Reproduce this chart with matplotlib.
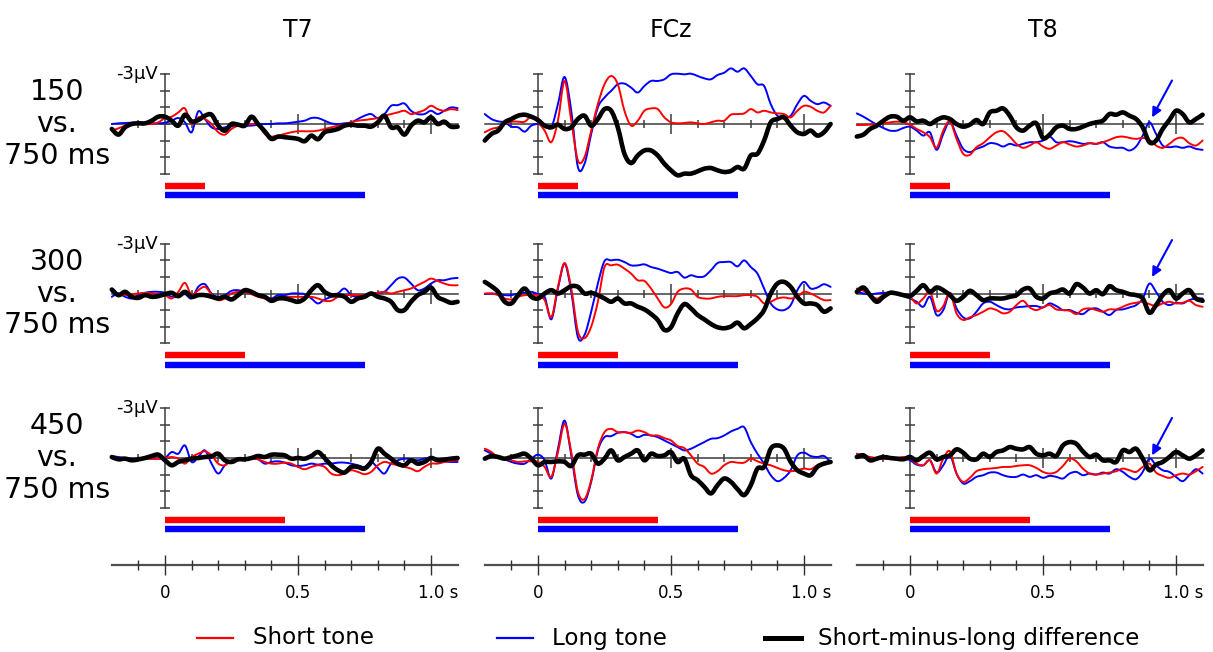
import numpy as np
import matplotlib
matplotlib.use("Agg")
import matplotlib.pyplot as plt
from matplotlib.lines import Line2D
from matplotlib.path import Path
from matplotlib.patches import PathPatch
from matplotlib.transforms import offset_copy

# ---------------------------------------------------------------- data
# sampling times (s), 25 ms steps from -200 ms to 1100 ms
times = np.round(np.arange(-0.2, 1.1001, 0.025), 3)

channels = ["T7", "FCz", "T8"]
short_ms = ["150", "300", "450"]
short_dur = [0.15, 0.30, 0.45]
long_dur = 0.75

# ERP amplitudes in microvolts (negative plotted upward)
t7_150_short = [0.40,0.26,0.10,0,0,0,0,-0.10,-0.36,-0.44,-0.70,-0.94,0,-0.40,-0.30,0,0.50,0.64,0.30,0.10,0.04,0,0.04,0.60,0.76,0.70,0.60,0.50,0.44,0.44,0.44,0.40,0.30,0.20,0.10,0.04,-0.10,-0.20,-0.24,-0.30,-0.36,-0.50,-0.60,-0.70,-0.80,-0.60,-0.70,-0.84,-1.10,-0.90,-0.80,-0.90,-0.84]
t7_150_long = [0,-0.04,-0.06,-0.08,-0.08,-0.08,-0.04,-0.04,-0.08,-0.20,-0.36,-0.10,0.50,-0.76,-0.30,0.20,0.30,0.20,0.14,0.10,0.10,0.10,0.04,0,0,-0.04,-0.04,-0.08,-0.14,-0.20,-0.36,-0.36,-0.20,-0.04,0,-0.04,-0.10,-0.30,-0.50,-0.60,-0.36,-0.60,-1.10,-1.14,-1.24,-0.80,-0.60,-0.60,-0.80,-0.60,-0.80,-1.00,-0.96]
t7_150_diff = [0.30,0.64,0.20,0,-0.04,-0.04,-0.20,-0.44,-0.44,-0.20,0.10,-0.56,-0.16,-0.24,-0.50,-0.56,0.10,0.40,0,0.04,0.10,-0.44,0,0.44,0.90,0.76,0.80,0.84,0.90,1.04,0.70,0.92,0.50,0.40,0.30,0.10,0.04,0.10,0.10,0.16,-0.10,-0.50,0.20,0.20,0.64,0.10,-0.20,-0.10,-0.40,0,-0.14,0.16,0.16]

fcz_150_short = [0.50,0.30,0.20,0,-0.14,-0.14,-0.14,-0.44,-0.10,0.40,1.10,-0.20,-2.60,-0.20,2.20,2.00,0.40,-1.20,-2.40,-2.90,-2.40,-0.80,0.10,-0.20,-0.80,-0.94,-0.90,-0.40,-0.10,-0.04,-0.06,-0.10,-0.04,0,-0.10,-0.20,-0.20,-0.56,-0.60,-0.64,-0.90,-0.70,-0.80,-0.70,-0.64,-0.60,-0.40,-0.80,-1.10,-1.04,-0.80,-0.70,-1.10]
fcz_150_long = [-0.60,-0.30,-0.16,-0.10,0.16,0.20,0.46,0.10,0,0.10,0.20,-1.20,-2.84,-0.80,2.60,2.40,0.60,-1.00,-1.60,-2.00,-2.40,-2.44,-2.20,-1.90,-2.30,-2.60,-2.60,-2.70,-3.00,-3.04,-3.00,-3.04,-2.90,-2.76,-2.70,-2.96,-3.10,-3.36,-3.16,-3.36,-2.90,-2.40,-2.30,-1.20,-0.50,-0.40,-0.50,-1.20,-1.70,-1.40,-1.20,-1.30,-1.10]
fcz_150_diff = [1.00,0.60,0.40,-0.10,-0.30,-0.50,-0.56,-0.44,-0.24,0.10,0.20,0.04,0.30,0.20,-0.30,-0.50,0.10,-0.30,-0.90,-0.80,0.20,1.80,2.36,1.90,1.60,1.60,1.90,2.40,2.80,3.10,3.00,3.00,2.86,2.70,2.66,2.80,2.90,2.84,2.60,2.70,1.90,1.80,1.00,-0.10,-0.30,-0.40,0.10,0.50,0.60,0.40,0.70,0.50,0.00]

t8_150_short = [0.06,0.06,0.04,0,-0.04,-0.10,-0.14,-0.10,0.04,0.30,0.50,0.80,1.44,0.40,-0.16,0.90,1.80,1.86,1.40,1.16,0.80,0.50,0.44,0.76,1.20,1.44,1.30,1.10,1.36,1.50,1.30,1.10,1.24,1.36,1.30,1.16,1.20,1.10,0.96,0.80,0.76,0.84,0.90,0.84,0.96,1.30,1.44,1.20,0.90,0.84,1.16,1.30,1.00]
t8_150_long = [-0.64,-0.44,-0.20,0.04,0.24,0.40,0.40,0.24,0.16,0.40,0.70,0.50,1.56,0.60,-0.16,0.70,1.50,1.70,1.50,1.36,1.16,1.20,1.36,1.20,1.30,1.20,1.10,1.10,1.00,0.76,1.10,1.10,1.04,1.10,1.20,1.16,1.20,1.10,1.36,1.44,1.44,1.60,1.36,0.70,-0.10,0.60,1.30,1.40,1.36,1.44,1.36,1.50,1.56]
t8_150_diff = [0.76,0.64,0.30,0.10,-0.20,-0.44,-0.44,-0.20,-0.40,-0.16,-0.20,0,-0.24,-0.40,-0.30,0,0.16,0.04,-0.24,0,-0.70,-0.80,-0.94,-0.50,0.20,0.40,0.10,-0.04,0.84,0.64,0.20,0.10,0.30,0.30,0.16,0,-0.10,-0.20,-0.60,-0.56,-0.70,-0.50,-0.30,0.20,1.10,1.00,0.30,-0.24,-0.80,-0.60,-0.10,-0.30,-0.56]

t7_300_short = [-0.10,0.04,0.10,0.04,0,-0.04,0,0.04,0.10,0.30,-0.10,-0.64,0.10,-0.20,-0.40,0.04,0.40,0.30,0,-0.10,-0.10,0.04,0.20,0.30,0.40,0.30,0.20,0.20,0.20,0.20,0.20,0.30,0.44,0.44,0.20,0.10,0.10,0.10,0.10,0.04,-0.04,-0.10,0,-0.10,-0.20,-0.30,-0.50,-0.70,-0.90,-0.76,-0.60,-0.50,-0.50]
t7_300_long = [0.20,0,0.20,0.30,0.10,-0.04,-0.10,-0.10,-0.04,0.20,0.20,0.04,0.30,-0.40,-0.56,0,0.20,0.10,-0.16,-0.20,-0.10,0,0.04,0.20,0.30,0.10,0.10,0,0,0.04,0.30,0.60,0.36,0.20,0,-0.30,0.10,0.20,0.10,0,-0.04,-0.10,-0.50,-0.90,-0.96,-0.60,-0.20,-0.30,-0.60,-0.80,-0.80,-0.90,-0.94]
t7_300_diff = [-0.24,0.10,-0.10,0.20,0.26,0.10,0.20,0.16,0.04,-0.04,0.16,-0.10,0.20,0.10,0.10,0.20,0.30,0.20,0.36,0.10,-0.20,-0.10,0.10,0.20,0.44,0.30,0.30,0.40,0.50,0.30,-0.20,-0.50,-0.10,0.10,0.10,0.20,0.50,0.30,0.20,0,0.20,0.30,0.50,1.00,1.00,0.50,0.10,-0.10,-0.36,0.20,0.40,0.56,0.50]

fcz_300_short = [0,0,0.10,0.30,0.36,0.20,0.10,0.10,0.10,0.40,1.44,-0.40,-1.84,-0.30,2.30,2.70,2.00,0.50,-1.60,-1.70,-1.74,-1.50,-1.20,-0.80,-0.76,-0.30,0.30,0.84,0.64,-0.10,-0.30,-0.24,0.20,0.30,0.30,0.20,0.16,0.16,0.16,0.10,0.10,0.20,0.60,0.50,0.30,0.24,0.30,0.20,-0.10,0,0.20,0.40,0.40]
fcz_300_long = [0.04,0,0.04,0.10,0.10,0,-0.04,-0.10,0.04,0.20,1.56,-0.30,-1.80,-0.10,2.64,2.50,1.10,-0.60,-1.96,-2.00,-2.04,-1.90,-1.70,-1.70,-1.76,-1.60,-1.50,-1.36,-1.24,-1.30,-0.96,-1.10,-1.00,-1.04,-1.40,-1.84,-1.90,-1.90,-1.64,-2.00,-1.60,-1.20,-0.30,0.60,0.96,1.00,0.70,-0.20,-0.70,-0.30,-0.36,-0.56,-0.40]
fcz_300_diff = [-0.70,-0.44,-0.10,0.50,0.60,0.10,-0.30,0.20,0.30,0,-0.20,0,-0.20,-0.44,-0.40,0,-0.04,0.10,0.30,0.50,0.30,0.60,0.60,0.80,0.96,1.24,1.60,2.20,2.04,1.20,0.64,0.90,1.30,1.56,1.84,2.04,2.10,2.00,1.76,2.10,1.84,1.50,1.00,0,-0.60,-0.70,-0.40,0.20,0.60,0.60,0.70,1.10,0.90]

t8_300_short = [-0.30,-0.16,0.10,0.30,0.10,-0.04,0,0.10,0.20,0.60,0.30,-0.10,1.04,0.76,-0.04,1.20,1.60,1.44,1.30,1.10,0.90,1.00,1.20,1.10,0.70,0.44,0.84,1.00,0.84,0.70,0.96,1.00,1.04,1.24,0.96,0.90,1.00,1.10,0.96,0.96,0.80,0.64,0.56,0.50,0.64,0.76,0.60,0.50,0.60,0.56,0.44,0.70,0.80]
t8_300_long = [-0.10,0,0.04,0,-0.04,-0.04,0,0.10,0.30,0.50,0.80,0.20,1.30,1.00,-0.04,0.90,1.44,1.50,1.10,0.60,0.50,0.70,0.90,0.96,0.84,0.80,0.76,0.76,0.84,0.60,0.76,1.00,1.00,1.16,1.24,0.96,0.90,1.10,1.30,1.00,0.96,0.84,0.70,0.30,-0.60,-0.10,0.50,0.70,0.56,0.60,0.40,0.30,0.30]
t8_300_diff = [-0.10,-0.36,0.10,0.50,0.20,-0.04,0,0.10,0.16,-0.16,-0.50,-0.10,-0.36,-0.20,0.10,0.44,0.20,-0.16,0.10,0.40,0.30,0.30,0.30,0.20,0.10,-0.24,-0.30,0.20,0.30,0,-0.10,-0.24,0,-0.56,-0.36,0,-0.20,0.04,-0.44,-0.20,-0.10,0.04,0.10,0.30,1.16,0.70,0.10,-0.20,0.30,0,-0.20,0.30,0.44]

t7_450_short = [-0.06,0,0.08,0.14,0.04,0.04,0.04,0.04,0,-0.06,0.04,0.34,-0.06,-0.26,-0.40,-0.16,0.34,0.44,0.14,0.04,0.04,0.04,0.08,0.24,0.34,0.34,0.28,0.34,0.54,0.68,0.54,0.44,0.54,0.94,1.04,0.94,0.74,0.84,0.98,0.84,0.44,0.24,0.34,0.44,0.54,0.64,0.80,0.54,0.34,0.34,0.24,0.18,0.14]
t7_450_long = [-0.12,-0.06,0,0.04,0.04,0.04,0.04,0.04,0,-0.36,-0.26,-0.76,0.24,-0.06,-0.46,0.34,0.94,0.44,0.14,0.04,0.04,0.04,0.08,0.34,0.24,0.20,0.28,0.44,0.48,0.44,0.34,0.40,0.34,0.34,0.28,0.28,0.34,0.44,0.54,0.24,0.60,0.94,0.34,0.14,0.04,0.08,0.14,0.04,0,0.14,0.20,0.24,0.24]
t7_450_diff = [-0.06,0.08,0.04,0.14,0.08,0,-0.12,-0.20,0.14,0.44,0.24,0.14,0.04,0,-0.06,-0.10,-0.26,0.14,0.24,0.08,0.08,0,-0.12,-0.06,-0.20,-0.20,-0.16,0.04,0,0.04,-0.12,-0.36,0,0.44,0.74,0.88,0.54,0.54,0.64,0.24,-0.56,-0.26,0.04,0.34,0.44,0.14,0.34,0.24,0,0.14,0.10,0.04,0]

fcz_450_short = [-0.56,-0.36,0,0.04,0.14,0.24,0.20,0.20,0.24,0.54,1.14,-0.36,-2.06,-0.36,2.04,2.48,1.34,-0.56,-1.56,-1.76,-1.56,-1.56,-1.52,-1.66,-1.56,-1.36,-1.36,-1.20,-1.06,-0.72,-0.60,-0.16,0.34,0.54,0.94,0.80,0.44,0.24,0.28,0.28,0.04,0.20,0.34,0.44,0.60,0.74,0.80,0.74,0.64,0.68,0.44,0.28,0.24]
fcz_450_long = [-0.46,-0.26,-0.06,0.08,0.24,0.34,0.34,0.04,-0.20,0.14,1.24,-0.56,-2.26,-0.16,2.24,2.64,1.44,-0.46,-1.26,-1.32,-1.52,-1.56,-1.46,-1.26,-1.40,-1.36,-1.26,-1.06,-0.86,-0.66,-0.46,-0.56,-0.76,-0.96,-1.16,-1.20,-1.36,-1.60,-1.76,-1.86,-0.96,-0.26,0.34,1.04,1.40,1.20,0.74,-0.16,-0.32,-0.12,-0.06,-0.12,0.24]
fcz_450_diff = [0.04,-0.12,-0.06,0.04,-0.06,-0.16,-0.26,0.04,0.44,0.24,0.24,0.20,0.24,0.48,-0.16,-0.20,-0.26,0.34,0.04,-0.46,0.14,-0.06,-0.26,-0.46,0.14,-0.26,-0.12,-0.16,-0.36,0.24,0.04,1.04,1.34,1.74,2.14,1.64,1.24,1.44,1.88,2.24,1.64,0.64,0.54,-0.56,-0.76,-0.56,0.24,0.74,0.94,1.04,0.54,0.34,0.24]

t8_450_short = [-0.26,-0.16,-0.06,0,0.04,0.04,0,-0.06,0.04,0.34,0.44,0.14,0.94,0.04,-0.40,0.94,1.44,1.20,0.80,0.68,0.64,0.60,0.54,0.54,0.48,0.44,0.44,0.60,0.84,0.94,0.84,0.48,0.04,0.20,0.64,0.94,1.00,0.94,0.88,0.80,0.64,0.74,0.84,0.54,0.34,0.88,1.08,1.20,1.04,0.94,1.00,0.80,0.54]
t8_450_long = [-0.16,-0.06,0,0.04,0.04,0.04,0.08,0.04,0.14,0.40,0.44,0.14,0.88,0.44,-0.16,0.94,1.54,1.40,1.14,1.04,0.88,0.88,1.04,1.14,1.14,1.00,1.14,1.04,1.20,1.08,1.14,1.24,0.94,0.84,1.04,0.94,1.00,0.88,0.94,0.68,0.84,1.14,1.28,0.84,0.04,0.44,0.74,0.84,1.14,1.40,1.04,0.68,0.94]
t8_450_diff = [-0.06,-0.16,0.14,0.04,-0.06,0,0.04,0.08,-0.06,0.14,-0.12,-0.32,0.08,-0.06,-0.16,-0.52,-0.32,0.04,0.08,-0.26,-0.06,-0.36,-0.46,-0.66,-0.56,-0.52,-0.66,-0.26,-0.16,-0.26,-0.12,-0.76,-0.96,-0.86,-0.40,-0.06,-0.20,0.14,0.14,0.24,-0.46,-0.36,-0.56,0.04,0.74,0.40,0.24,-0.06,-0.36,-0.16,0.04,-0.16,-0.46]

# rows: short-tone duration, columns: electrode
waves = [
    [(t7_150_short, t7_150_long, t7_150_diff),
     (fcz_150_short, fcz_150_long, fcz_150_diff),
     (t8_150_short, t8_150_long, t8_150_diff)],
    [(t7_300_short, t7_300_long, t7_300_diff),
     (fcz_300_short, fcz_300_long, fcz_300_diff),
     (t8_300_short, t8_300_long, t8_300_diff)],
    [(t7_450_short, t7_450_long, t7_450_diff),
     (fcz_450_short, fcz_450_long, fcz_450_diff),
     (t8_450_short, t8_450_long, t8_450_diff)],
]

# ---------------------------------------------------------------- layout
W, H = 1213, 652
fig = plt.figure(figsize=(W / 100, H / 100), dpi=100)
fig.patch.set_facecolor("white")

RED, BLUE, BLACK = "#ff0000", "#0000ff", "#000000"
AXC = "#3c3c3c"

col_x0 = [165, 538, 910]        # pixel column of t = 0
row_y0 = [124, 293.5, 458]      # pixel row of 0 uV
PX_S = 266.0                    # pixels per second
PX_UV = 16.55                   # pixels per microvolt
T_LO, T_HI = -0.25, 1.15
V_TOP, V_BOT = -4.3, 5.0


def panel_axes(x0, y0, vtop, vbot):
    left = x0 + T_LO * PX_S
    width = (T_HI - T_LO) * PX_S
    top = y0 + vtop * PX_UV
    height = (vbot - vtop) * PX_UV
    ax = fig.add_axes([left / W, 1 - (top + height) / H, width / W, height / H])
    ax.set_xlim(T_LO, T_HI)
    ax.set_ylim(vbot, vtop)
    ax.axis("off")
    return ax


def smooth_trace(ax, x, y, **kw):
    """Draw a waveform as a smooth Catmull-Rom curve through its samples."""
    p = np.column_stack([x, y]).astype(float)
    ext = np.vstack([p[0], p, p[-1]])
    verts = [p[0]]
    codes = [Path.MOVETO]
    for i in range(1, len(ext) - 2):
        p0, p1, p2, p3 = ext[i - 1], ext[i], ext[i + 1], ext[i + 2]
        verts += [p1 + (p2 - p0) / 6.0, p2 - (p3 - p1) / 6.0, p2]
        codes += [Path.CURVE4] * 3
    patch = PathPatch(Path(verts, codes), fill=False, capstyle="round",
                      joinstyle="round", **kw)
    ax.add_patch(patch)


minor_t = [-0.1, 0.1, 0.2, 0.3, 0.4, 0.6, 0.7, 0.8, 0.9]
major_t = [0.5, 1.0]
arrow_rows = [(-2.63, -0.40), (-3.23, -1.00), (-2.42, -0.16)]

for r in range(3):
    for c in range(3):
        ax = panel_axes(col_x0[c], row_y0[r], V_TOP, V_BOT)
        short, long_, diff = waves[r][c]

        # time axis through 0 uV
        ax.plot([-0.2, 1.1], [0, 0], color=AXC, lw=1.1, zorder=1)
        ax.plot(minor_t, np.zeros(len(minor_t)), ls="none", marker="|",
                ms=5.5, mew=1.1, color=AXC, zorder=1)
        ax.plot(major_t, np.zeros(len(major_t)), ls="none", marker="|",
                ms=14, mew=1.1, color=AXC, zorder=1)
        # amplitude axis at stimulus onset
        ax.plot([0, 0], [-3, 3], color=AXC, lw=1.1, zorder=1)
        ax.plot(np.zeros(7), np.arange(-3, 4), ls="none", marker="_",
                ms=7.5, mew=1.1, color=AXC, zorder=1)
        if c == 0:
            ax.text(0, -3, "-3\u00b5V", ha="right", va="center", fontsize=13,
                    transform=offset_copy(ax.transData, fig=fig, x=-7, y=0,
                                          units="dots"))

        smooth_trace(ax, times, long_, edgecolor=BLUE, lw=1.4, zorder=2)
        smooth_trace(ax, times, short, edgecolor=RED, lw=1.4, zorder=3)
        smooth_trace(ax, times, diff, edgecolor=BLACK, lw=3.3, zorder=4)

        # tone duration bars
        ax.plot([0, short_dur[r]], [3.72, 3.72], color=RED, lw=4.6,
                solid_capstyle="butt", zorder=2)
        ax.plot([0, long_dur], [4.30, 4.30], color=BLUE, lw=4.6,
                solid_capstyle="butt", zorder=2)

        if c == 2:
            tail_v, tip_v = arrow_rows[r]
            ax.annotate("", xy=(0.91, tip_v), xytext=(0.985, tail_v),
                        arrowprops=dict(arrowstyle="-|>", color=BLUE, lw=1.5,
                                        mutation_scale=14, shrinkA=0,
                                        shrinkB=0), zorder=5)

# time axes along the bottom
for c in range(3):
    ax = panel_axes(col_x0[c], 565, -2.0, 2.0)
    ax.plot([-0.2, 1.1], [0, 0], color="#505050", lw=1.6)
    ticks = [round(-0.1 + 0.1 * k, 1) for k in range(12)]
    small = [tk for tk in ticks if tk not in (0.0, 0.5, 1.0)]
    ax.plot(small, np.zeros(len(small)), ls="none", marker="|", ms=7.5,
            mew=1.0, color="#303030")
    ax.plot([0.0, 0.5, 1.0], np.zeros(3), ls="none", marker="|", ms=14.5,
            mew=1.0, color="#303030")
    lab_tr = offset_copy(ax.transData, fig=fig, x=0, y=-28, units="dots")
    ax.text(0.0, 0, "0", ha="center", va="center", fontsize=12,
            transform=lab_tr)
    ax.text(0.5, 0, "0.5", ha="center", va="center", fontsize=12,
            transform=lab_tr)
    ax.text(1.0, 0, "1.0 s", ha="center", va="center", fontsize=12,
            transform=offset_copy(ax.transData, fig=fig, x=7, y=-28,
                                  units="dots"))


def fx(px):
    return px / W


def fy(py):
    return 1 - py / H


# electrode titles
for c, name in enumerate(channels):
    fig.text(fx(col_x0[c] + 133), fy(30), name, ha="center", va="center",
             fontsize=17)

# row labels
for r in range(3):
    for k, line in enumerate([short_ms[r], "vs.", "750 ms"]):
        fig.text(fx(57), fy(row_y0[r] + (k - 1) * 31.5), line, ha="center",
                 va="center", fontsize=20.5)

# legend
legend_items = [("Short tone", RED, 1.6, 197, 253),
                ("Long tone", BLUE, 1.6, 497, 552),
                ("Short-minus-long difference", BLACK, 3.6, 765, 818)]
for label, col, lw, xs, xt in legend_items:
    fig.add_artist(Line2D([fx(xs), fx(xs + 36)], [fy(638), fy(638)],
                          color=col, lw=lw, transform=fig.transFigure))
    fig.text(fx(xt), fy(638), label, ha="left", va="center", fontsize=16.6)

fig.savefig("out.png", dpi=100, facecolor="white")
